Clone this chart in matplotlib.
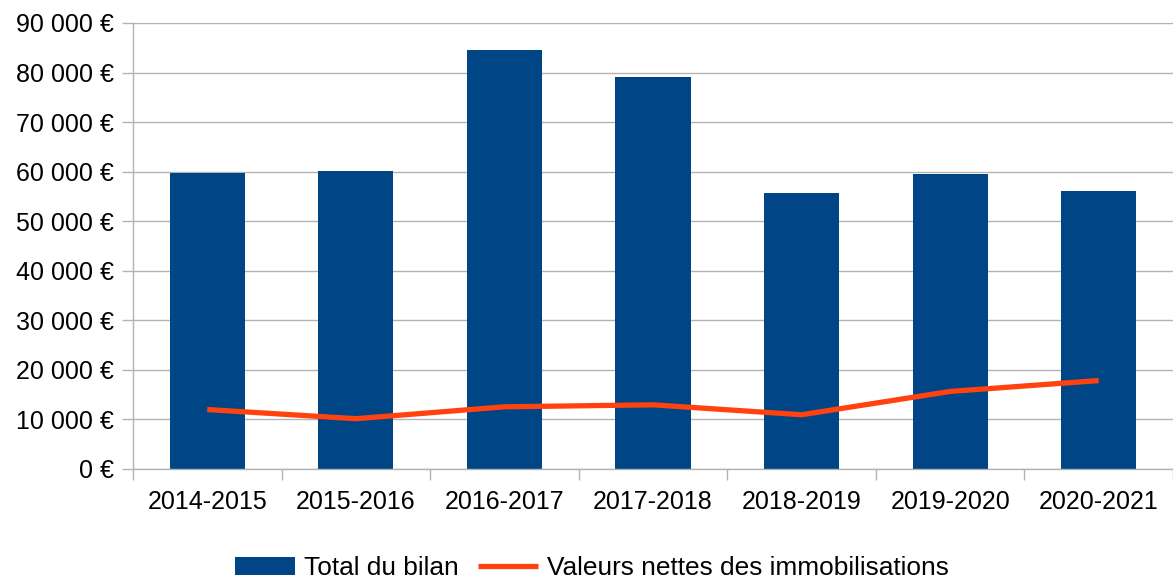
import matplotlib.pyplot as plt
from matplotlib.ticker import FuncFormatter, MultipleLocator
import numpy as np

plt.rcParams['font.family'] = ['Liberation Sans', 'DejaVu Sans']

# Data
years = ['2014-2015', '2015-2016', '2016-2017', '2017-2018',
         '2018-2019', '2019-2020', '2020-2021']
total_bilan = [59700, 60150, 84550, 79100, 55700, 59550, 56100]
immobilisations = [12000, 10150, 12550, 12950, 10950, 15650, 17850]

bar_color = '#004586'
line_color = '#ff420e'
grid_color = '#b3b3b3'

fig = plt.figure(figsize=(11.73, 5.81), dpi=100)
ax = fig.add_axes([133 / 1173, 1 - 469 / 581, 1 - 133 / 1173, (469 - 23) / 581])

x = np.arange(len(years))
bars = ax.bar(x, total_bilan, width=0.505, color=bar_color, zorder=2,
              label='Total du bilan')
line, = ax.plot(x, immobilisations, color=line_color, linewidth=3.8, zorder=3,
                solid_joinstyle='round', solid_capstyle='butt',
                label='Valeurs nettes des immobilisations')

# y axis
ax.set_ylim(0, 90000)
ax.yaxis.set_major_locator(MultipleLocator(10000))
ax.yaxis.set_major_formatter(FuncFormatter(
    lambda v, p: f'{int(v):,}'.replace(',', ' ') + ' €'))
ax.grid(axis='y', color=grid_color, linewidth=1.0, zorder=0)

# x axis: tick marks on category boundaries, labels at centres
ax.set_xlim(-0.5, len(years) - 0.5)
ax.set_xticks(np.arange(len(years) + 1) - 0.5)
ax.set_xticklabels([])
ax.set_xticks(x, minor=True)
ax.set_xticklabels(years, minor=True)

ax.tick_params(axis='y', length=8, width=1.0, color=grid_color, pad=6,
               labelsize=18, labelcolor='black')
ax.tick_params(axis='x', which='major', length=8, width=1.0, color=grid_color)
ax.tick_params(axis='x', which='minor', length=0, pad=15, labelsize=18,
               labelcolor='black')

for side in ['top', 'right']:
    ax.spines[side].set_visible(False)
for side in ['left', 'bottom']:
    ax.spines[side].set_color(grid_color)
    ax.spines[side].set_linewidth(1.0)

fig.legend(handles=[bars, line], loc='center', bbox_to_anchor=(0.5047, 1 - 568 / 581),
           ncol=2, frameon=False, fontsize=18.9, handlelength=2.3,
           handletextpad=0.34, columnspacing=0.72, borderaxespad=0)

fig.savefig('out.png', dpi=100)
